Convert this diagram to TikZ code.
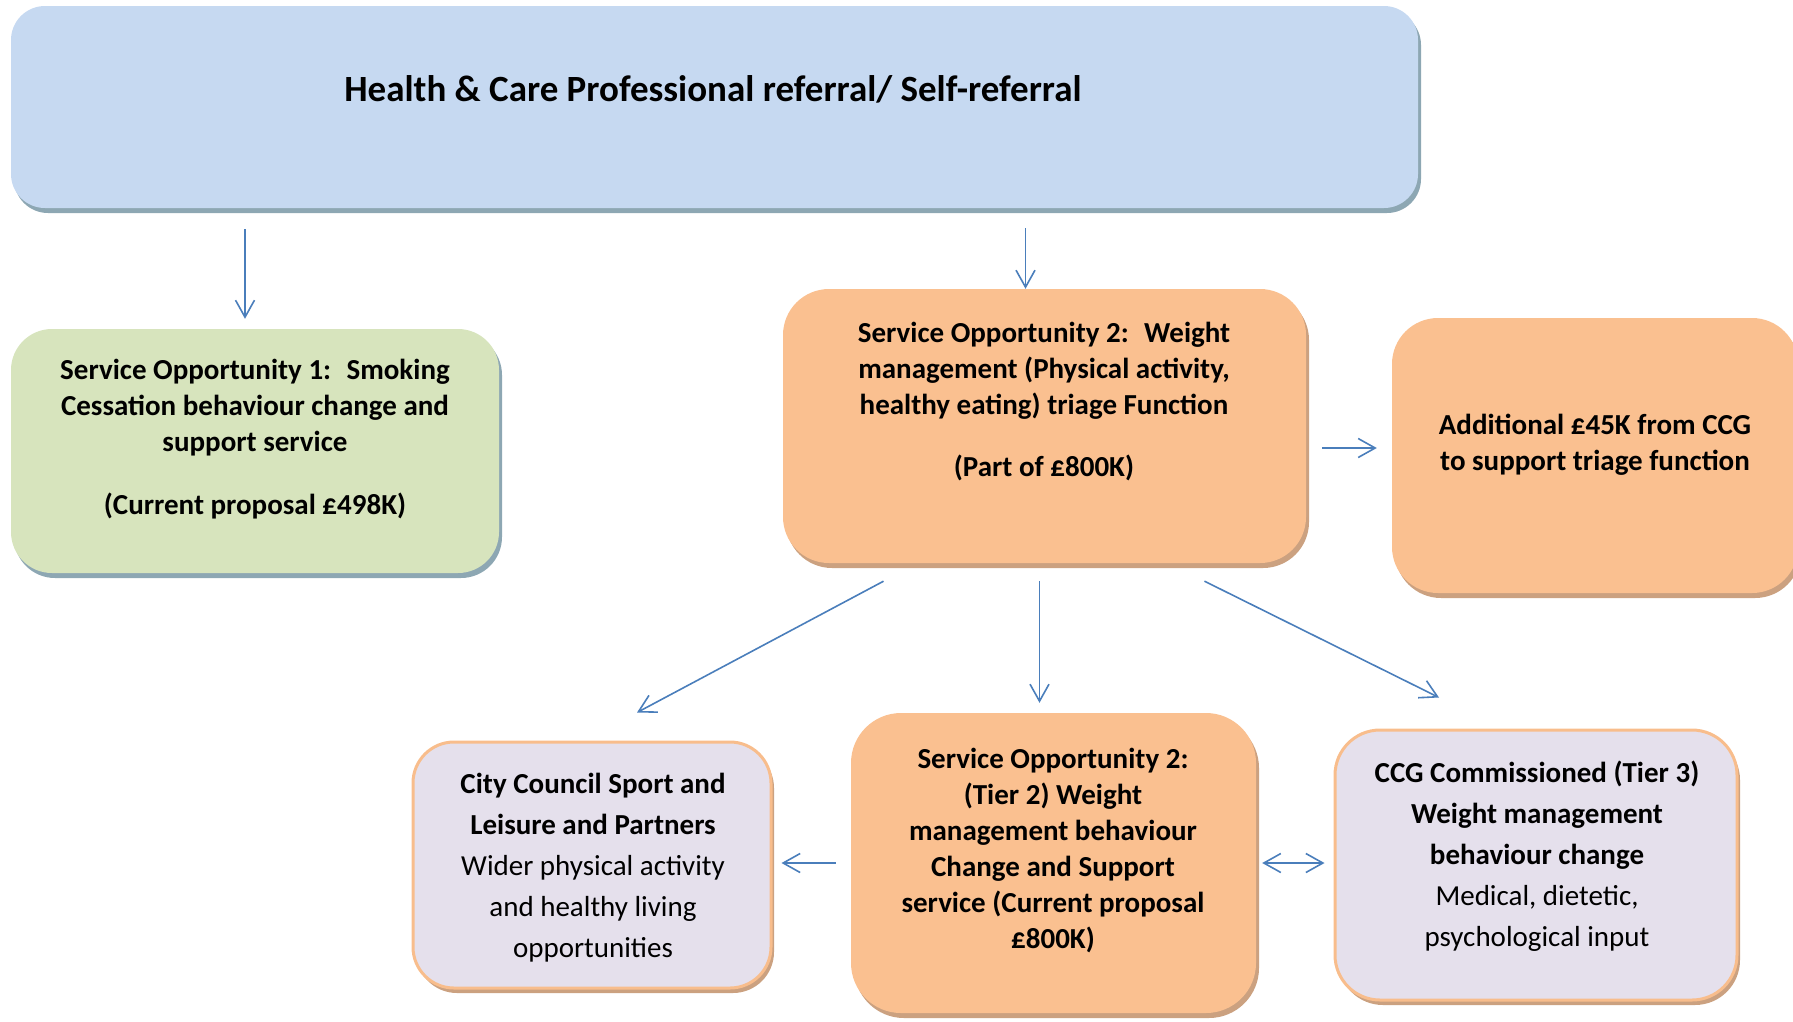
\documentclass[tikz,border=0pt]{standalone}
\usepackage{fontspec}
\setmainfont{Carlito}
\usepackage{tikz}
\usetikzlibrary{arrows.meta}
\usetikzlibrary{shadows}

\definecolor{topblue}{HTML}{C6D9F1}
\definecolor{sagegreen}{HTML}{D7E4BD}
\definecolor{peach}{HTML}{FAC090}
\definecolor{lilac}{HTML}{E5E0EC}
\definecolor{peachline}{HTML}{F8BD8C}
\definecolor{greyshade}{RGB}{141,167,179}
\definecolor{tanshade}{RGB}{203,161,128}
\definecolor{arrowblue}{HTML}{4A7EBB}

\tikzset{
    shade/.style={drop shadow={shadow xshift=3pt,shadow yshift=-5pt,opacity=1,fill=#1}},
    bluebox/.style={fill=topblue,shade=greyshade},
    greenbox/.style={fill=sagegreen,shade=greyshade},
    orangebox/.style={fill=peach,shade=tanshade},
    lilacbox/.style={fill=lilac,draw=peachline,line width=3pt,shade=tanshade},
    boxtext/.style={font=\bfseries\fontsize{29}{36}\selectfont,align=center},
    widetext/.style={font=\bfseries\fontsize{29}{41}\selectfont,align=center},
    arr/.style={draw=arrowblue,line width=1.6pt,-{Straight Barb[length=17pt,width=19pt]}},
    dblarr/.style={draw=arrowblue,line width=1.6pt,{Straight Barb[length=17pt,width=19pt]}-{Straight Barb[length=17pt,width=19pt]}}
}

\begin{document}
\begin{tikzpicture}[x=1pt,y=-1pt]
            \path[use as bounding box] (0,0) rectangle (1793,1021);
            \clip (0,0) rectangle (1793,1021);
            \node[bluebox,minimum width=1407pt,minimum height=202pt,rounded corners=34pt] (top) at (714.5,107) {};
            \node[font=\bfseries\fontsize{37}{44}\selectfont] (toptxt) at (713,89) {Health \& Care Professional referral/ Self-referral};
            \node[greenbox,minimum width=488pt,minimum height=244pt,rounded corners=41pt] (so1) at (255,451) {};
            \node[boxtext] (so1txt) at (255,439) {Service Opportunity 1:~ Smoking\\ Cessation behaviour change and\\ support service\\[27pt] (Current proposal £498K)};
            \node[orangebox,minimum width=523pt,minimum height=274pt,rounded corners=46pt] (so2) at (1044.5,426) {};
            \node[boxtext] (so2txt) at (1044,402) {Service Opportunity 2:~ Weight\\ management (Physical activity,\\ healthy eating) triage Function\\[26pt] (Part of £800K)};
            \node[orangebox,minimum width=406pt,minimum height=275pt,rounded corners=46pt] (extra) at (1595,455.5) {};
            \node[boxtext] (extratxt) at (1595,445) {Additional £45K from CCG\\ to support triage function};
            \node[lilacbox,minimum width=358pt,minimum height=246pt,rounded corners=41pt] (council) at (592,865) {};
            \node[widetext] (counciltxt) at (593,868) {City Council Sport and\\ Leisure and Partners\\ \mdseries Wider physical activity\\ \mdseries and healthy living\\ \mdseries opportunities};
            \node[orangebox,minimum width=405pt,minimum height=300pt,rounded corners=50pt] (tier2) at (1053.5,863) {};
            \node[boxtext] (tier2txt) at (1053,851) {Service Opportunity 2:\\ (Tier 2) Weight\\ management behaviour\\ Change and Support\\ service (Current proposal\\ £800K)};
            \node[lilacbox,minimum width=402pt,minimum height=270pt,rounded corners=45pt] (ccg) at (1536,865) {};
            \node[widetext] (ccgtxt) at (1537,856) {CCG Commissioned (Tier 3)\\ Weight management\\ behaviour change\\ \mdseries Medical, dietetic,\\ \mdseries psychological input};
            \draw[arr,shorten <=21pt,shorten >=10pt] ([xshift=-10pt]so1.north |- top.south) -- ([xshift=-10pt]so1.north);
            \draw[arr,shorten <=20pt] ([xshift=-19pt]so2.north |- top.south) -- ([xshift=-19pt]so2.north);
            \draw[arr,shorten <=16pt,shorten >=15pt] ([yshift=-22pt]so2.east) -- ([yshift=-22pt]so2.east -| extra.west);
            \draw[arr,shorten <=18pt,shorten >=10pt] ([xshift=-5pt]so2.south) -- ([xshift=-5pt]so2.south |- tier2.north);
            \draw[arr] ([xshift=-161pt,yshift=-18pt]so2.south) -- ([xshift=45pt,yshift=28pt]council.north);
            \draw[arr] ([xshift=160pt,yshift=-18pt]so2.south) -- ([xshift=-97pt,yshift=31pt]ccg.north);
            \draw[arr,shorten <=15pt,shorten >=9pt] (tier2.west) -- (tier2.west -| council.east);
            \draw[dblarr,shorten <=6pt,shorten >=9pt] (tier2.east) -- (tier2.east -| ccg.west);
        \end{tikzpicture}
\end{document}
